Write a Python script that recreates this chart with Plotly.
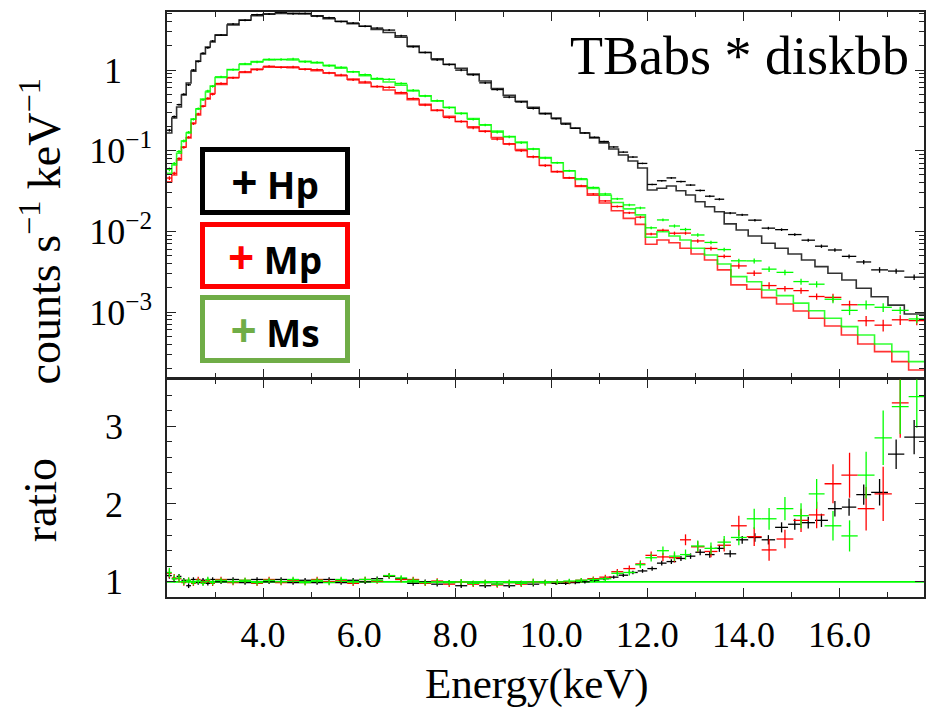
import plotly.graph_objects as go

# ---------------- data ----------------
# bin edges, keV: finely binned part shared by the three spectra
fine_edges = [2.0, 2.1, 2.2, 2.3, 2.4, 2.5, 2.6, 2.7, 2.8, 2.9, 3.0, 3.25, 3.5, 3.75, 4.0,
              4.25, 4.5, 4.75, 5.0, 5.25, 5.5, 5.75, 6.0, 6.25, 6.5, 6.75, 7.0, 7.25, 7.5,
              7.75, 8.0, 8.25, 8.5, 8.75, 9.0, 9.25, 9.5, 9.75, 10.0]
hp_coarse_edges = [10.0, 10.2, 10.4, 10.6, 10.8, 11.0, 11.2, 11.4, 11.6, 11.8, 12.0, 12.2,
                   12.4, 12.6, 12.8, 13.0, 13.2, 13.4, 13.6, 13.85, 14.1, 14.38, 14.66,
                   14.93, 15.21, 15.49, 15.76, 16.05, 16.35, 16.66, 17.01, 17.35, 17.76]
m_coarse_edges = [10.0, 10.25, 10.5, 10.75, 11.0, 11.25, 11.5, 11.75, 11.96, 12.2, 12.45,
                  12.68, 12.91, 13.19, 13.46, 13.74, 14.07, 14.38, 14.69, 15.04, 15.36,
                  15.69, 16.04, 16.38, 16.73, 17.09, 17.44, 17.78]

# folded model, counts s^-1 keV^-1
hp_model_fine = [0.166, 0.254, 0.348, 0.49, 0.69, 0.97, 1.29, 1.58, 1.93, 2.22, 2.71, 3.61,
                 4.17, 4.71, 4.94, 5.04, 5.04, 4.94, 4.70, 4.32, 4.02, 3.75, 3.48, 3.18, 2.92,
                 2.55, 1.98, 1.65, 1.38, 1.18, 1.05, 0.89, 0.73, 0.59, 0.485, 0.41, 0.345, 0.29]
hp_model_coarse = [0.254, 0.218, 0.191, 0.166, 0.144, 0.125, 0.105, 0.0885, 0.0745, 0.061,
                   0.0326, 0.0342, 0.0365, 0.0319, 0.0282, 0.0233, 0.0202, 0.0175, 0.0124,
                   0.0104, 0.00877, 0.00712, 0.00618, 0.00525, 0.00442, 0.00366, 0.00303,
                   0.0025, 0.00197, 0.00155, 0.00122, 0.000947]
mp_model_fine = [0.0413, 0.050, 0.0767, 0.111, 0.144, 0.22, 0.277, 0.358, 0.437, 0.511, 0.661,
                 0.807, 0.931, 1.03, 1.08, 1.09, 1.07, 1.03, 0.98, 0.92, 0.85, 0.77, 0.69,
                 0.62, 0.565, 0.51, 0.43, 0.375, 0.315, 0.266, 0.23, 0.198, 0.175, 0.145,
                 0.122, 0.103, 0.084, 0.066]
mp_model_coarse = [0.055, 0.046, 0.036, 0.028, 0.0225, 0.018, 0.0145, 0.0122, 0.00692,
                   0.00782, 0.00724, 0.00618, 0.00525, 0.00442, 0.00333, 0.00217, 0.00192,
                   0.00151, 0.00126, 0.00103, 0.000838, 0.000673, 0.00052, 0.000402,
                   0.000323, 0.000243, 0.000191]
ms_model_fine = [0.0525, 0.0665, 0.0929, 0.132, 0.166, 0.247, 0.329, 0.437, 0.534, 0.634,
                 0.807, 1.01, 1.17, 1.27, 1.33, 1.35, 1.33, 1.28, 1.22, 1.14, 1.05, 0.95,
                 0.85, 0.77, 0.71, 0.65, 0.55, 0.48, 0.415, 0.345, 0.29, 0.25, 0.21, 0.175,
                 0.15, 0.128, 0.105, 0.082]
ms_model_coarse = [0.071, 0.056, 0.044, 0.034, 0.028, 0.0228, 0.019, 0.016, 0.00845, 0.0099,
                   0.00877, 0.00782, 0.00618, 0.0051, 0.00394, 0.00275, 0.00238, 0.00188,
                   0.0016, 0.00129, 0.00104, 0.000838, 0.00066, 0.00052, 0.000402,
                   0.000323, 0.000243]

# data / model ratio and its 1-sigma error
hp_ratio_fine = [1.08, 1.04, 1.07, 1.02, 0.95, 1.03, 0.99, 1.02, 0.98, 1.03, 1.0, 1.03, 0.99,
                 1.03, 1.0, 1.03, 0.99, 1.02, 0.99, 1.03, 0.99, 1.02, 1.0, 1.04, 1.07, 1.04,
                 0.98, 1.0, 0.97, 0.99, 0.95, 0.98, 0.95, 0.97, 0.95, 0.98, 0.97, 0.99]
hp_ratio_coarse = [0.98, 0.98, 0.99, 1.0, 1.02, 1.04, 1.06, 1.085, 1.12, 1.14, 1.17, 1.24,
                   1.26, 1.30, 1.33, 1.38, 1.35, 1.43, 1.36, 1.54, 1.57, 1.54, 1.70, 1.74,
                   1.76, 1.79, 1.94, 1.96, 2.12, 2.15, 2.64, 2.86]
mp_ratio_fine = [1.11, 1.05, 1.04, 0.99, 1.02, 0.98, 1.03, 0.99, 1.02, 0.98, 1.03, 0.99, 1.02,
                 0.98, 1.03, 0.99, 1.02, 0.99, 1.03, 1.0, 1.02, 0.98, 1.03, 1.01, 1.08, 1.03,
                 1.03, 0.98, 1.01, 0.97, 1.0, 0.97, 0.99, 0.96, 0.99, 0.97, 1.0, 0.99]
mp_ratio_coarse = [1.0, 1.0, 1.02, 1.04, 1.06, 1.13, 1.17, 1.23, 1.34, 1.32, 1.31, 1.54,
                   1.45, 1.39, 1.47, 1.72, 1.58, 1.41, 1.55, 1.79, 1.86, 2.26, 2.37, 1.94,
                   2.13, 3.3, 4.1]
ms_ratio_fine = [1.12, 1.04, 1.05, 1.0, 1.02, 0.99, 1.01, 0.98, 1.03, 0.99, 1.02, 1.0, 1.02,
                 0.99, 1.02, 1.0, 1.03, 0.99, 1.02, 0.99, 1.03, 1.0, 1.03, 1.02, 1.08, 1.05,
                 1.02, 0.99, 1.0, 0.99, 1.0, 0.98, 0.99, 0.97, 0.99, 0.98, 1.0, 0.99]
ms_ratio_coarse = [1.0, 1.01, 1.02, 1.03, 1.04, 1.11, 1.12, 1.22, 1.31, 1.40, 1.33, 1.35,
                   1.46, 1.43, 1.51, 1.57, 1.81, 1.81, 1.94, 1.85, 2.13, 1.72, 1.59, 2.37,
                   2.85, 3.25, 3.38]

hp_err_fine = [0.04, 0.035, 0.03, 0.03, 0.03, 0.028, 0.028, 0.028, 0.028, 0.028, 0.028,
               0.028, 0.028, 0.028, 0.028, 0.028, 0.028, 0.028, 0.028, 0.028, 0.028, 0.028,
               0.028, 0.028, 0.03, 0.03, 0.03, 0.03, 0.03, 0.03, 0.03, 0.03, 0.03,
               0.03, 0.03, 0.03, 0.03, 0.03]
hp_err_coarse = [0.02, 0.02, 0.02, 0.02, 0.02, 0.02, 0.021, 0.022, 0.023, 0.024, 0.028,
                 0.03, 0.03, 0.032, 0.035, 0.04, 0.04, 0.045, 0.045, 0.05, 0.055, 0.06,
                 0.065, 0.07, 0.075, 0.085, 0.1, 0.11, 0.13, 0.17, 0.19, 0.22]
m_err_fine = [0.06, 0.05, 0.045, 0.04, 0.035, 0.034, 0.034, 0.034, 0.034, 0.034, 0.034, 0.034,
              0.034, 0.034, 0.034, 0.034, 0.034, 0.034, 0.034, 0.034, 0.034, 0.034, 0.034,
              0.035, 0.035, 0.035, 0.035, 0.035, 0.035, 0.035, 0.036, 0.036, 0.036, 0.036,
              0.037, 0.037, 0.038, 0.038]
mp_err_coarse = [0.03, 0.03, 0.03, 0.03, 0.032, 0.035, 0.04, 0.045, 0.05, 0.055, 0.06, 0.07,
                 0.07, 0.075, 0.08, 0.13, 0.12, 0.14, 0.12, 0.15, 0.17, 0.25, 0.29, 0.28,
                 0.35, 0.45, 0.5]
ms_err_coarse = [0.03, 0.03, 0.03, 0.03, 0.032, 0.035, 0.04, 0.045, 0.05, 0.055, 0.06, 0.065,
                 0.07, 0.075, 0.08, 0.1, 0.13, 0.14, 0.15, 0.16, 0.19, 0.19, 0.2, 0.3, 0.35,
                 0.35, 0.4]

series_names = ["Hp", "Mp", "Ms"]
series_colors = ["#000000", "#FF0000", "#00FF00"]
legend_colors = ["#000000", "#FF0000", "#70AD47"]

energy_ticks = [4.0, 6.0, 8.0, 10.0, 12.0, 14.0, 16.0]
count_ticks = [0.001, 0.01, 0.1, 1]
count_tick_text = ["10<sup>−3</sup>", "10<sup>−2</sup>", "10<sup>−1</sup>", "1\u2002\u2004"]
ratio_ticks = [1, 2, 3]
unity = 1.0

title_text = "TBabs * diskbb"

# ---------------- build figure ----------------
series = [
    (fine_edges + hp_coarse_edges[1:], hp_model_fine + hp_model_coarse,
     hp_ratio_fine + hp_ratio_coarse, hp_err_fine + hp_err_coarse),
    (fine_edges + m_coarse_edges[1:], mp_model_fine + mp_model_coarse,
     mp_ratio_fine + mp_ratio_coarse, m_err_fine + mp_err_coarse),
    (fine_edges + m_coarse_edges[1:], ms_model_fine + ms_model_coarse,
     ms_ratio_fine + ms_ratio_coarse, m_err_fine + ms_err_coarse),
]

fig = go.Figure()

for (edges, model, ratio, rerr), name, col in zip(series, series_names, series_colors):
    lo = edges[:-1]
    hi = edges[1:]
    centers = [(a + b) / 2 for a, b in zip(lo, hi)]
    half = [(b - a) / 2 for a, b in zip(lo, hi)]
    data = [m * r for m, r in zip(model, ratio)]       # ratio = data / model
    data_err = [m * e for m, e in zip(model, rerr)]

    # model histogram
    fig.add_trace(go.Scatter(
        x=lo + [hi[-1]], y=model + [model[-1]], mode="lines", line_shape="hv",
        line=dict(color=col, width=1.6), opacity=0.8, showlegend=False,
        xaxis="x", yaxis="y", hoverinfo="skip", name=name + " model"))
    # data points (crosses)
    fig.add_trace(go.Scatter(
        x=centers, y=data, mode="markers", marker=dict(size=1, color=col),
        error_x=dict(type="data", array=half, width=0, thickness=1.3, color=col),
        error_y=dict(type="data", array=data_err, width=0, thickness=1.3, color=col),
        showlegend=False, xaxis="x", yaxis="y", name=name))
    # ratio points
    fig.add_trace(go.Scatter(
        x=centers, y=ratio, mode="markers", marker=dict(size=1, color=col),
        error_x=dict(type="data", array=half, width=0, thickness=1.3, color=col),
        error_y=dict(type="data", array=rerr, width=0, thickness=1.3, color=col),
        showlegend=False, xaxis="x2", yaxis="y2", name=name + " ratio"))

fig.add_shape(type="line", xref="x2 domain", yref="y2", x0=0, x1=1, y0=unity, y1=unity,
              line=dict(color="#00FF00", width=1.6), layer="below")

frame = "#222222"
line_w = 1.5
plot_h = 708 - 12 - 111
tick_font = dict(family="Liberation Serif", size=36, color="black")
split = 0.3744
gap = line_w / plot_h      # lets the two frame lines at the panel joint coincide

xcommon = dict(range=[2.0, 17.76], showline=True, linecolor=frame, linewidth=line_w,
               mirror="ticks", ticks="inside", ticklen=9, tickwidth=1.3, tickcolor=frame,
               tickvals=energy_ticks, tickformat=".1f", showgrid=False, zeroline=False,
               minor=dict(dtick=1, tick0=0, ticks="inside", ticklen=5, tickwidth=1.2,
                          tickcolor=frame))

fig.update_layout(
    width=927, height=708,
    margin=dict(l=167, r=1, t=12, b=111),
    paper_bgcolor="white", plot_bgcolor="white",
    showlegend=False,
    xaxis=dict(**xcommon, domain=[0, 1], anchor="y", showticklabels=False),
    xaxis2=dict(**xcommon, domain=[0, 1], anchor="y2", matches="x", showticklabels=True,
                tickfont=tick_font, ticklabelstandoff=5),
    yaxis=dict(type="log", domain=[split, 1], anchor="x", range=[-3.817, 0.719],
               showline=True, linecolor=frame, linewidth=line_w, mirror="ticks",
               ticks="inside", ticklen=9, tickwidth=1.3, tickcolor=frame,
               tickvals=count_ticks, ticktext=count_tick_text, tickfont=tick_font,
               showgrid=False, zeroline=False, ticklabelstandoff=6,
               minor=dict(dtick="D1", ticks="inside", ticklen=5, tickwidth=1.2,
                          tickcolor=frame)),
    yaxis2=dict(domain=[0, split - gap], anchor="x2", range=[0.805, 3.60],
                showline=True, linecolor=frame, linewidth=line_w, mirror="ticks",
                ticks="inside", ticklen=9, tickwidth=1.3, tickcolor=frame,
                tickvals=ratio_ticks, tickfont=tick_font, showgrid=False, zeroline=False,
                ticklabelstandoff=35,
                minor=dict(dtick=0.2, tick0=0, ticks="inside", ticklen=5, tickwidth=1.2,
                           tickcolor=frame)),
)

serif = "Liberation Serif"
annotations = [
    dict(text=title_text, xref="paper", yref="paper", x=0.9829, y=0.9795,
         xanchor="right", yanchor="top", showarrow=False,
         font=dict(family=serif, size=54, color="black")),
    dict(text="counts s<sup>−1</sup> keV<sup>−1</sup>", xref="paper", yref="paper",
         x=-0.1673, y=0.6256, xanchor="center", yanchor="middle", textangle=-90,
         showarrow=False, font=dict(family=serif, size=46, color="black")),
    dict(text="ratio", xref="paper", yref="paper", x=-0.1673, y=0.1658,
         xanchor="center", yanchor="middle", textangle=-90, showarrow=False,
         font=dict(family=serif, size=46, color="black")),
    dict(text="Energy(keV)", xref="paper", yref="paper", x=0.4888, y=-0.1035,
         xanchor="center", yanchor="top", showarrow=False,
         font=dict(family=serif, size=43, color="black")),
]

legend_tops = [0.7692, 0.641, 0.5162]
legend_heights = [58, 57, 58]
for name, lc, ytop, hgt in zip(series_names, legend_colors, legend_tops, legend_heights):
    annotations.append(dict(
        text=f"<b><span style='color:{lc};font-size:46px'>+</span> {name}</b>",
        xref="paper", yref="paper", x=0.0435, y=ytop, xanchor="left", yanchor="top",
        showarrow=False, width=140, height=hgt, align="center", valign="middle",
        bordercolor=lc, borderwidth=5, borderpad=0, bgcolor="white",
        font=dict(family="Open Sans", size=37, color="black")))

fig.update_layout(annotations=annotations)

fig.write_html(
    "out.html",
    config={"displayModeBar": False},
    post_script="document.body.style.margin='0px';document.body.style.padding='0px';"
                "document.documentElement.style.overflow='hidden';")
